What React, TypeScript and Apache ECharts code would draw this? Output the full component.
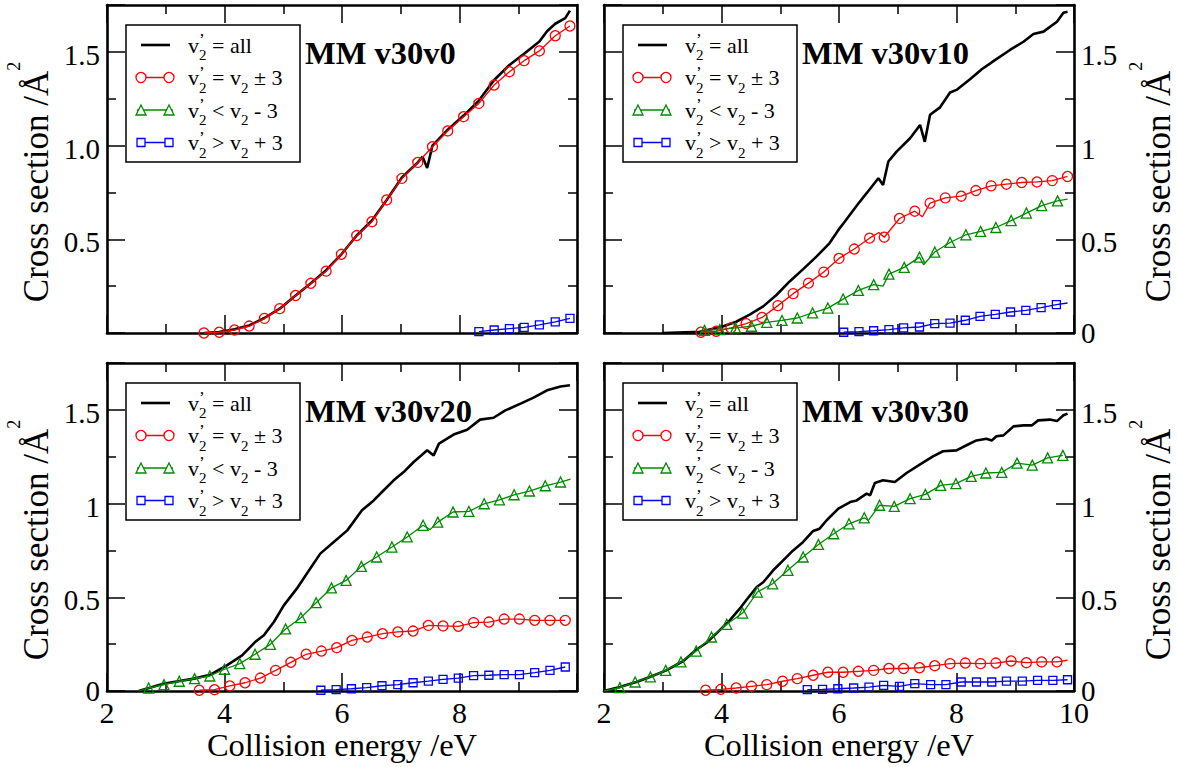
import React, { useEffect, useRef } from "react";
import * as echarts from "echarts";

const FONT = "'Liberation Serif', 'Times New Roman', Times, serif";
const RED = "#ff0000";
const GREEN = "#008b00";
const BLUE = "#0000ff";

// A third entry (0) marks a point drawn without a marker.
// ---- MM v30v0 ----
const v30v0All = [[3.65,0],[3.91,0.005],[4.17,0.02],[4.42,0.04],[4.68,0.08],[4.94,0.13],[5.21,0.2],[5.47,0.265],[5.73,0.335],[5.99,0.42],[6.25,0.52],[6.51,0.6],[6.76,0.71],[7.02,0.83],[7.29,0.91],[7.37,0.94],[7.45,0.88],[7.54,1.0],[7.8,1.085],[8.07,1.16],[8.33,1.24],[8.59,1.35],[8.85,1.43],[9.1,1.49],[9.36,1.555],[9.49,1.61],[9.63,1.65],[9.8,1.68],[9.88,1.72]];
const v30v0Same = [[3.65,0],[3.91,0.004],[4.17,0.016],[4.42,0.037],[4.68,0.078],[4.94,0.13],[5.21,0.2],[5.47,0.265],[5.73,0.33],[5.99,0.42],[6.25,0.52],[6.51,0.594],[6.76,0.71],[7.02,0.825],[7.29,0.91],[7.54,0.994],[7.8,1.078],[8.07,1.154],[8.33,1.225],[8.59,1.323],[8.85,1.394],[9.1,1.453],[9.36,1.505],[9.63,1.586],[9.88,1.638]];
const v30v0Lower: number[][] = [];
const v30v0Higher = [[8.33,0.007],[8.59,0.016],[8.85,0.023],[9.1,0.03],[9.36,0.043],[9.63,0.059],[9.88,0.078]];

// ---- MM v30v10 ----
const v30v10All = [[3.0,0],[3.63,0.007],[4.02,0.035],[4.25,0.06],[4.48,0.098],[4.71,0.142],[4.94,0.204],[5.16,0.275],[5.39,0.341],[5.62,0.409],[5.84,0.48],[5.99,0.55],[6.1,0.595],[6.3,0.679],[6.47,0.746],[6.67,0.826],[6.75,0.79],[6.84,0.915],[6.98,0.968],[7.21,1.039],[7.38,1.11],[7.46,1.02],[7.55,1.164],[7.72,1.204],[7.89,1.283],[8.0,1.297],[8.23,1.354],[8.43,1.407],[8.66,1.457],[8.91,1.51],[9.14,1.554],[9.31,1.595],[9.48,1.608],[9.71,1.661],[9.82,1.709],[9.89,1.714]];
const v30v10Same = [[3.65,0.004],[3.91,0.009],[4.16,0.027],[4.42,0.05],[4.69,0.083],[4.96,0.146],[5.22,0.21],[5.48,0.266],[5.74,0.325],[6.0,0.398],[6.26,0.448],[6.52,0.506],[6.68,0.536,0],[6.77,0.511],[7.03,0.611],[7.29,0.65],[7.42,0.62,0],[7.55,0.693],[7.81,0.721],[8.08,0.73],[8.33,0.76],[8.59,0.785],[8.85,0.794],[9.11,0.803],[9.37,0.806],[9.63,0.813],[9.89,0.835]];
const v30v10Lower = [[3.65,0,0],[3.71,0.014],[3.97,0.018],[4.24,0.027],[4.51,0.036],[4.77,0.057],[5.03,0.067],[5.29,0.08],[5.55,0.107],[5.81,0.133],[6.07,0.181],[6.33,0.227],[6.59,0.258],[6.75,0.25,0],[6.85,0.314],[7.11,0.35],[7.37,0.405],[7.44,0.364,0],[7.63,0.432],[7.89,0.483],[8.16,0.524],[8.41,0.542],[8.67,0.563],[8.93,0.6],[9.19,0.64],[9.45,0.68],[9.72,0.705],[9.89,0.714,0]];
const v30v10Higher = [[6.08,0.004],[6.34,0.007],[6.59,0.012],[6.85,0.018],[7.1,0.027],[7.37,0.032],[7.63,0.05],[7.89,0.053],[8.15,0.068],[8.4,0.089],[8.66,0.099],[8.92,0.112],[9.18,0.121],[9.44,0.135],[9.7,0.151],[9.89,0.16,0]];

// ---- MM v30v20 ----
const v30v20All = [[2.54,0],[2.96,0.039],[3.48,0.066],[3.76,0.087],[4.04,0.137],[4.3,0.19],[4.52,0.261],[4.67,0.297],[4.84,0.368],[5.01,0.457],[5.23,0.546],[5.4,0.626],[5.63,0.733],[5.86,0.795],[6.09,0.857],[6.34,0.964],[6.54,1.017],[6.71,1.071],[6.88,1.124],[7.05,1.168],[7.22,1.222],[7.45,1.284],[7.56,1.257],[7.65,1.32],[7.9,1.368],[8.13,1.394],[8.35,1.448],[8.58,1.458],[8.78,1.497],[9.04,1.533],[9.26,1.565],[9.49,1.604],[9.72,1.625],[9.88,1.631]];
const v30v20Same = [[3.57,0.004],[3.83,0.007],[4.09,0.027],[4.35,0.044],[4.61,0.069],[4.87,0.11],[5.13,0.153],[5.39,0.196],[5.65,0.213],[5.91,0.231],[6.17,0.27],[6.43,0.288],[6.69,0.306],[6.95,0.315],[7.21,0.32],[7.47,0.35],[7.72,0.347],[7.98,0.345],[8.24,0.365],[8.5,0.368],[8.76,0.384],[9.02,0.384],[9.28,0.377],[9.54,0.377],[9.8,0.377]];
const v30v20Lower = [[2.54,0,0],[2.71,0.016],[2.97,0.034],[3.23,0.052],[3.49,0.066],[3.75,0.08],[4.0,0.116],[4.26,0.146],[4.52,0.196],[4.78,0.249],[5.04,0.331],[5.3,0.391],[5.56,0.471],[5.82,0.55],[6.07,0.59],[6.33,0.665],[6.59,0.715],[6.85,0.768],[7.11,0.822],[7.38,0.884],[7.5,0.861,0],[7.63,0.901],[7.89,0.955],[8.16,0.958],[8.42,0.999],[8.68,1.02],[8.93,1.047],[9.19,1.067],[9.46,1.095],[9.72,1.115],[9.89,1.13,0]];
const v30v20Higher = [[5.64,0.004],[5.9,0.007],[6.16,0.012],[6.42,0.018],[6.68,0.028],[6.95,0.034],[7.21,0.044],[7.47,0.053],[7.72,0.062],[7.98,0.069],[8.24,0.082],[8.5,0.084],[8.76,0.087],[9.02,0.087],[9.28,0.098],[9.54,0.11],[9.8,0.128]];

// ---- MM v30v30 ----
const v30v30All = [[2.0,0],[2.27,0.021],[2.55,0.048],[2.78,0.075],[3.06,0.11],[3.35,0.16],[3.57,0.22],[3.74,0.256],[3.91,0.306],[4.14,0.377],[4.31,0.439],[4.42,0.484],[4.6,0.555],[4.71,0.58],[4.88,0.644],[5.05,0.697],[5.22,0.75],[5.39,0.795],[5.56,0.854],[5.67,0.866],[5.79,0.911],[5.99,0.973],[6.19,1.008],[6.3,1.017],[6.47,1.053],[6.53,1.044],[6.61,1.11],[6.75,1.124],[6.95,1.115],[7.15,1.163],[7.38,1.209],[7.6,1.252],[7.77,1.279],[8.0,1.284],[8.17,1.311],[8.34,1.337],[8.51,1.346],[8.6,1.337],[8.68,1.359],[8.8,1.364],[8.97,1.412],[9.14,1.417],[9.28,1.417],[9.39,1.444],[9.59,1.448],[9.71,1.44],[9.82,1.471],[9.89,1.48]];
const v30v30Same = [[3.73,0.004],[3.99,0.009],[4.25,0.016],[4.51,0.025],[4.77,0.034],[5.04,0.052],[5.29,0.066],[5.56,0.084],[5.81,0.1],[6.07,0.1],[6.33,0.105],[6.59,0.11],[6.85,0.12],[7.1,0.12],[7.37,0.124],[7.63,0.135],[7.89,0.146],[8.15,0.149],[8.41,0.146],[8.67,0.149],[8.93,0.16],[9.19,0.151],[9.45,0.155],[9.71,0.155],[9.89,0.164,0]];
const v30v30Lower = [[2.0,0,0],[2.27,0.018],[2.53,0.048],[2.79,0.075],[3.05,0.11],[3.31,0.155],[3.57,0.213],[3.83,0.288],[4.09,0.356],[4.36,0.416],[4.61,0.528],[4.87,0.572],[5.13,0.644],[5.39,0.715],[5.65,0.782],[5.91,0.839],[6.17,0.892],[6.43,0.924],[6.5,0.91,0],[6.69,0.991],[6.94,0.985],[7.21,1.026],[7.47,1.049],[7.73,1.097],[7.99,1.106],[8.25,1.145],[8.5,1.163],[8.77,1.166],[9.03,1.216],[9.29,1.205],[9.55,1.244],[9.81,1.257]];
const v30v30Higher = [[5.46,0.007],[5.72,0.009],[5.98,0.012],[6.25,0.016],[6.51,0.021],[6.76,0.03],[7.03,0.025],[7.29,0.039],[7.56,0.034],[7.82,0.034],[8.08,0.048],[8.34,0.048],[8.6,0.048],[8.85,0.053],[9.12,0.053],[9.38,0.057],[9.64,0.057],[9.89,0.06]];

const X_TICK_LABELS = ["2", "4", "6", "8", "10"];
const PANEL_TITLES = ["MM v30v0", "MM v30v10", "MM v30v20", "MM v30v30"];
const LEGEND_TEXTS = [
  "{m|v}{p|’}{s|2}{m| = all}",
  "{m|v}{p|’}{s|2}{m| = v}{s|2}{m| ± 3}",
  "{m|v}{p|’}{s|2}{m| < v}{s|2}{m| - 3}",
  "{m|v}{p|’}{s|2}{m| > v}{s|2}{m| + 3}",
];

const PANELS = [
  { title: PANEL_TITLES[0], left: 107, top: 5, all: v30v0All, same: v30v0Same, lower: v30v0Lower, higher: v30v0Higher, right: false, bottom: false, decimals: true, showTen: false },
  { title: PANEL_TITLES[1], left: 604, top: 5, all: v30v10All, same: v30v10Same, lower: v30v10Lower, higher: v30v10Higher, right: true, bottom: false, decimals: false, showTen: true },
  { title: PANEL_TITLES[2], left: 107, top: 363, all: v30v20All, same: v30v20Same, lower: v30v20Lower, higher: v30v20Higher, right: false, bottom: true, decimals: false, showTen: false },
  { title: PANEL_TITLES[3], left: 604, top: 363, all: v30v30All, same: v30v30Same, lower: v30v30Lower, higher: v30v30Higher, right: true, bottom: true, decimals: false, showTen: true },
];

const W = 470;
const H = 328;

const toData = (pts: number[][]) =>
  pts.map((p) => (p.length > 2 ? { value: [p[0], p[1]], symbol: "none" } : [p[0], p[1]]));

const axisLine = { show: true, onZero: false, lineStyle: { color: "#000", width: 2.6 } };
const axisTick = { show: true, inside: true, length: 18, lineStyle: { color: "#000", width: 1.5 } };
const minorTick = { show: true, splitNumber: 2, length: 9, lineStyle: { color: "#000", width: 1.5 } };

function buildOption() {
  const grid: any[] = [];
  const xAxis: any[] = [];
  const yAxis: any[] = [];
  const series: any[] = [];
  const elements: any[] = [];

  PANELS.forEach((p, i) => {
    grid.push({ left: p.left, top: p.top, width: W, height: H, containLabel: false });
    const xLabelFmt = (v: number) => {
      const s = String(v);
      if (!X_TICK_LABELS.includes(s)) return "";
      if (s === "10" && !p.showTen) return "";
      return s;
    };
    xAxis.push({
      type: "value", gridIndex: i, position: "bottom", min: 2, max: 10, interval: 2,
      axisLine, axisTick, minorTick, splitLine: { show: false }, minorSplitLine: { show: false },
      axisLabel: { show: p.bottom, formatter: xLabelFmt, fontFamily: FONT, fontSize: 30, lineHeight: 20, color: "#000", margin: 11 },
      name: p.bottom ? "Collision energy /eV" : "",
      nameLocation: "middle", nameGap: 37,
      nameTextStyle: { fontFamily: FONT, fontSize: 32.5, color: "#000" },
    });
    xAxis.push({
      type: "value", gridIndex: i, position: "top", min: 2, max: 10, interval: 2,
      axisLine, axisTick, minorTick, splitLine: { show: false },
      axisLabel: { show: false },
    });
    const yFmt = (v: number) => {
      if (v > 1.6) return "";
      if (v === 0) return p.decimals ? "" : "{z|0}";
      return "{d|" + (p.decimals ? v.toFixed(1) : String(v)) + "}";
    };
    yAxis.push({
      type: "value", gridIndex: i, position: p.right ? "right" : "left", min: 0, max: 1.75, interval: 0.5,
      axisLine, axisTick, minorTick, splitLine: { show: false },
      axisLabel: {
        show: true, formatter: yFmt, fontFamily: FONT, fontSize: 29, color: "#000", margin: 7,
        rich: {
          d: { fontFamily: FONT, fontSize: 29, color: "#000", padding: [6, 0, 0, 0] },
          z: { fontFamily: FONT, fontSize: 29, lineHeight: 16, color: "#000" },
        },
      },
      name: "{a|Cross section /Å}{b|2}",
      nameLocation: "middle", nameRotate: 90, nameGap: p.right ? 53 : 40,
      nameTextStyle: {
        fontFamily: FONT, fontSize: 35, color: "#000", padding: [0, 26, 0, 0],
        rich: {
          a: { fontFamily: FONT, fontSize: 35, color: "#000" },
          b: { fontFamily: FONT, fontSize: 18, color: "#000", padding: [0, 0, 44, 0] },
        },
      },
    });
    yAxis.push({
      type: "value", gridIndex: i, position: p.right ? "left" : "right", min: 0, max: 1.75, interval: 0.5,
      axisLine, axisTick, minorTick, splitLine: { show: false },
      axisLabel: { show: false },
    });

    const base = { type: "line", xAxisIndex: 2 * i, yAxisIndex: 2 * i, clip: false, silent: true, animation: false, emphasis: { disabled: true } };
    series.push({ ...base, name: "all", data: toData(p.all), symbol: "none", lineStyle: { color: "#000", width: 2.6 }, z: 2 });
    series.push({ ...base, name: "same", data: toData(p.same), symbol: "circle", symbolSize: 10,
      itemStyle: { color: "rgba(0,0,0,0)", borderColor: RED, borderWidth: 1.3 }, lineStyle: { color: RED, width: 1.3 }, z: 3 });
    series.push({ ...base, name: "lower", data: toData(p.lower), symbol: "triangle", symbolSize: 10,
      itemStyle: { color: "rgba(0,0,0,0)", borderColor: GREEN, borderWidth: 1.3 }, lineStyle: { color: GREEN, width: 1.3 }, z: 3 });
    series.push({ ...base, name: "higher", data: toData(p.higher), symbol: "rect", symbolSize: 8,
      itemStyle: { color: "rgba(0,0,0,0)", borderColor: BLUE, borderWidth: 1.3 }, lineStyle: { color: BLUE, width: 1.3 }, z: 3 });

    // legend box
    const lx = p.left + 19;
    const ly = p.top + 20;
    const rows = [ly + 20, ly + 52.5, ly + 85, ly + 117.5];
    elements.push({ type: "rect", shape: { x: lx, y: ly, width: 174, height: 137 }, style: { fill: "#fff", stroke: "#000", lineWidth: 1.5 }, z: 50 });
    elements.push({ type: "line", shape: { x1: lx + 15, y1: rows[0], x2: lx + 44, y2: rows[0] }, style: { stroke: "#000", lineWidth: 2.6 }, z: 51 });
    const cols = [RED, GREEN, BLUE];
    cols.forEach((c, k) => {
      const y = rows[k + 1];
      elements.push({ type: "line", shape: { x1: lx + 11, y1: y, x2: lx + 47, y2: y }, style: { stroke: c, lineWidth: 1.3 }, z: 51 });
      [lx + 15, lx + 43].forEach((cx) => {
        if (k === 0) elements.push({ type: "circle", shape: { cx, cy: y, r: 5 }, style: { fill: "#fff", stroke: c, lineWidth: 1.3 }, z: 52 });
        if (k === 1) elements.push({ type: "polygon", shape: { points: [[cx, y - 5], [cx + 5, y + 5], [cx - 5, y + 5]] }, style: { fill: "#fff", stroke: c, lineWidth: 1.3 }, z: 52 });
        if (k === 2) elements.push({ type: "rect", shape: { x: cx - 4, y: y - 4, width: 8, height: 8 }, style: { fill: "#fff", stroke: c, lineWidth: 1.3 }, z: 52 });
      });
    });
    rows.forEach((y, k) => {
      elements.push({
        type: "text", x: lx + 62, y, z: 53,
        style: {
          text: LEGEND_TEXTS[k], align: "left", verticalAlign: "middle", fill: "#000",
          fontFamily: FONT, fontSize: 22,
          rich: {
            m: { fontFamily: FONT, fontSize: 22, fill: "#000" },
            p: { fontFamily: FONT, fontSize: 17, fill: "#000", width: 0, padding: [0, 0, 11, 0] },
            s: { fontFamily: FONT, fontSize: 15, fill: "#000", padding: [20, 0, 0, 0] },
          },
        },
      });
    });
    // panel title
    elements.push({
      type: "text", x: p.left + 198, y: p.top + 48, z: 53,
      style: { text: p.title, align: "left", verticalAlign: "middle", fill: "#000", fontFamily: FONT, fontSize: 32.5, fontWeight: "bold" },
    });
  });

  return {
    animation: false,
    backgroundColor: "#fff",
    textStyle: { fontFamily: FONT, color: "#000" },
    grid, xAxis, yAxis, series,
    graphic: { elements },
  };
}

export default function App() {
  const ref = useRef<HTMLDivElement>(null);
  useEffect(() => {
    document.body.style.margin = "0";
    if (!ref.current) return;
    const chart = echarts.init(ref.current, undefined, { renderer: "svg" });
    chart.setOption(buildOption() as any);
    return () => chart.dispose();
  }, []);
  return <div ref={ref} style={{ width: 1177, height: 767 }} />;
}
